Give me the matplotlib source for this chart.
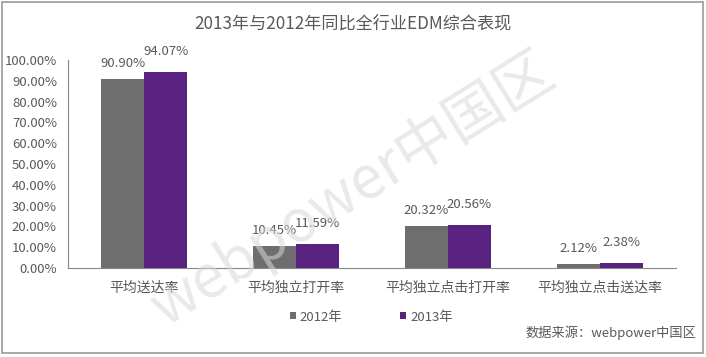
import matplotlib
matplotlib.use("Agg")
import matplotlib.pyplot as plt
import numpy as np
from matplotlib.patches import Rectangle

plt.rcParams['font.family'] = ['Noto Sans CJK SC', 'DejaVu Sans']

categories = ['平均送达率', '平均独立打开率', '平均独立点击打开率', '平均独立点击送达率']
series_names = ['2012年', '2013年']
values_2012 = [90.90, 10.45, 20.32, 2.12]
values_2013 = [94.07, 11.59, 20.56, 2.38]
yticks = [0, 10, 20, 30, 40, 50, 60, 70, 80, 90, 100]
title = '2013年与2012年同比全行业EDM综合表现'
source = '数据来源：webpower中国区'
watermark = 'webpower中国区'

c2012 = '#6e6e6e'
c2013 = '#5a2280'
tcol = '#595959'

fig = plt.figure(figsize=(7.06, 3.57), dpi=100)
ax = fig.add_axes([68/706, 1-268/357, 608/706, 208/357])

x = np.arange(len(categories))
w = 0.283
b1 = ax.bar(x - w/2, values_2012, w, color=c2012, label=series_names[0])
b2 = ax.bar(x + w/2, values_2013, w, color=c2013, label=series_names[1])

for bars, vals, off in ((b1, values_2012, 11), (b2, values_2013, 15)):
    for r, v in zip(bars, vals):
        ax.annotate(f'{v:.2f}%', (r.get_x() + r.get_width()/2, v), xytext=(0, off),
                    textcoords='offset points', ha='center', va='center',
                    fontsize=9.5, color=tcol, annotation_clip=False)

ax.set_xlim(-0.5, len(categories) - 0.5)
ax.set_ylim(0, 100)
ax.set_yticks(yticks)
ax.set_yticklabels([f'{t:.2f}%' for t in yticks], fontsize=9.5, color=tcol)
ax.set_xticks(x)
ax.set_xticklabels(categories, fontsize=10, color=tcol)
ax.tick_params(axis='x', length=0, pad=9)
ax.tick_params(axis='y', length=0, pad=8)
for s in ['top', 'right']:
    ax.spines[s].set_visible(False)
ax.spines['left'].set_color('#888888')
ax.spines['bottom'].set_color('#888888')
ax.spines['left'].set_linewidth(0.8)
ax.spines['bottom'].set_linewidth(0.8)

fig.text(0.5, 0.935, title, ha='center', va='center', fontsize=12.3, color=tcol)

leg = fig.legend(handles=[b1, b2], labels=series_names, loc='center', bbox_to_anchor=(0.526, 0.112),
                 ncol=2, frameon=False, fontsize=9.5, handlelength=0.45, handleheight=0.45,
                 handletextpad=0.3, columnspacing=4.4, labelcolor=tcol)

fig.text(0.987, 0.067, source, ha='right', va='center', fontsize=9.5, color=tcol)

fig.text(0.5, 0.47, watermark, ha='center', va='center', fontsize=42, color='#d8d8d8',
         alpha=0.55, rotation=32, zorder=0)

fig.patches.append(Rectangle((2/706, 4/357), 701/706, 351/357, transform=fig.transFigure,
                             fill=False, edgecolor='#9a9a9a', linewidth=1.2))

fig.savefig('out.png', dpi=100)
